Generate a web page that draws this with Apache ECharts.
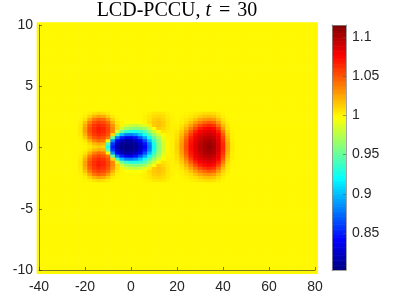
<!DOCTYPE html>
<html><head><meta charset="utf-8">
<script src="https://cdn.jsdelivr.net/npm/echarts@6/dist/echarts.min.js"></script>
<style>html,body{margin:0;padding:0;background:#fff}#c{width:393px;height:300px}</style>
</head><body><div id="c"></div>
<script>
// ---- values ----
const xTicks = [-40, -20, 0, 20, 40, 60, 80];
const yTicks = [-10, -5, 0, 5, 10];
const cbTicks = [0.85, 0.9, 0.95, 1, 1.05, 1.1];
const cMin = 0.803, cMax = 1.115;
const baseLevel = 1.0;   // uniform field away from the structures
// columns (x) of the detailed block
const xCols = [-22,-20,-18,-16,-14,-12,-10,-8,-6,-4,-2,0,2,4,6,8,10,12,14,16,18,20,22,24,26,28,30,32,34,36,38,40,42,44];
// rows (y) of the detailed block, top to bottom
const yRows = [2.85,2.6,2.35,2.1,1.85,1.6,1.35,1.1,0.85,0.6,0.35,0.1,-0.15,-0.4,-0.65,-0.9,-1.15,-1.4,-1.65,-1.9,-2.15,-2.4,-2.65];
// rows named by their offset from y = 0.1 (the picture is mirror-symmetric about it)
const rowD275 = [1.000,1.001,1.003,1.007,1.010,1.008,1.004,1.001,1.000,1.000,1.000,1.000,1.000,1.000,1.001,1.003,1.005,1.006,1.005,1.002,1.001,1.000,1.000,1.001,1.002,1.004,1.006,1.008,1.009,1.008,1.004,1.001,1.000,1.000];
const rowD250 = [1.000,1.003,1.011,1.021,1.027,1.024,1.014,1.004,1.001,1.000,1.000,1.000,1.000,1.000,1.002,1.005,1.009,1.010,1.008,1.004,1.001,1.000,1.001,1.002,1.005,1.008,1.013,1.017,1.018,1.016,1.009,1.003,1.000,1.000];
const rowD225 = [1.001,1.008,1.024,1.040,1.046,1.043,1.030,1.012,1.002,1.000,1.000,1.000,1.000,1.000,1.002,1.006,1.012,1.014,1.011,1.005,1.002,1.000,1.002,1.005,1.009,1.017,1.025,1.030,1.032,1.029,1.018,1.007,1.001,1.000];
const rowD200 = [1.003,1.016,1.038,1.052,1.057,1.054,1.044,1.022,1.005,1.001,0.998,0.997,0.997,0.998,1.001,1.008,1.014,1.017,1.013,1.006,1.002,1.001,1.003,1.008,1.017,1.028,1.038,1.045,1.049,1.045,1.030,1.012,1.003,1.000];
const rowD175 = [1.004,1.023,1.047,1.059,1.064,1.061,1.052,1.031,1.008,1.001,0.986,0.981,0.979,0.982,0.989,1.002,1.014,1.017,1.013,1.006,1.002,1.002,1.006,1.014,1.027,1.041,1.053,1.061,1.065,1.060,1.043,1.020,1.005,1.000];
const rowD150 = [1.005,1.027,1.051,1.062,1.069,1.065,1.055,1.035,1.010,0.981,0.969,0.962,0.960,0.962,0.969,0.981,0.998,1.014,1.010,1.005,1.003,1.003,1.009,1.022,1.038,1.054,1.067,1.074,1.077,1.073,1.057,1.029,1.007,1.001];
const rowD125 = [1.005,1.027,1.051,1.062,1.068,1.065,1.055,1.035,0.987,0.955,0.937,0.928,0.928,0.933,0.945,0.964,0.983,0.999,1.007,1.004,1.002,1.005,1.014,1.030,1.049,1.066,1.077,1.082,1.085,1.082,1.068,1.039,1.011,1.001];
const rowD100 = [1.004,1.022,1.046,1.058,1.063,1.060,1.051,1.010,0.941,0.900,0.883,0.880,0.887,0.904,0.927,0.946,0.966,0.985,0.999,1.002,1.003,1.007,1.018,1.037,1.058,1.074,1.084,1.089,1.092,1.088,1.076,1.048,1.015,1.002];
const rowD075 = [1.002,1.014,1.036,1.050,1.055,1.052,1.040,0.952,0.880,0.851,0.837,0.836,0.847,0.867,0.893,0.925,0.950,0.973,0.993,1.001,1.002,1.008,1.023,1.044,1.066,1.080,1.089,1.095,1.097,1.094,1.081,1.055,1.019,1.003];
const rowD050 = [1.001,1.006,1.021,1.036,1.043,1.039,1.000,0.887,0.840,0.821,0.813,0.814,0.822,0.837,0.865,0.901,0.936,0.965,0.987,1.000,1.003,1.010,1.027,1.049,1.070,1.083,1.093,1.099,1.103,1.098,1.085,1.060,1.022,1.003];
const rowD025 = [1.000,1.002,1.009,1.019,1.024,1.021,0.945,0.859,0.823,0.811,0.808,0.809,0.811,0.826,0.848,0.882,0.927,0.962,0.985,1.000,1.003,1.011,1.029,1.052,1.073,1.086,1.095,1.102,1.106,1.101,1.087,1.064,1.025,1.004];
const rowD000 = [1.000,1.001,1.004,1.010,1.014,1.011,0.926,0.848,0.816,0.808,0.805,0.806,0.809,0.821,0.842,0.877,0.924,0.961,0.984,1.000,1.003,1.012,1.030,1.053,1.074,1.086,1.096,1.103,1.108,1.103,1.088,1.065,1.025,1.004];

const fieldRows = [rowD275,rowD250,rowD225,rowD200,rowD175,rowD150,rowD125,rowD100,rowD075,rowD050,rowD025,
                   rowD000,
                   rowD025,rowD050,rowD075,rowD100,rowD125,rowD150,rowD175,rowD200,rowD225,rowD250,rowD275];
const jetColors = ['#000080','#0000ff','#0080ff','#00ffff','#80ff80','#ffff00','#ff8000','#ff0000','#800000'];

// ---- cell table over the whole domain ----
const cellW = 2, cellH = 0.25, rowOrigin = 0.1;
const cells = [];
for (let k = -41; k <= 40; k++) {
  const yc = rowOrigin + k * cellH;
  const r = yRows.findIndex(v => Math.abs(v - yc) < 1e-6);
  for (let i = 0; i <= 60; i++) {
    const xc = -40 + i * cellW;
    const c = xCols.indexOf(xc);
    const v = (r >= 0 && c >= 0) ? fieldRows[r][c] : baseLevel;
    cells.push([xc, yc, v]);
  }
}
// colour bar slices
const nSlices = 150;
const cbData = [];
for (let k = 0; k < nSlices; k++) {
  const lo = cMin + (cMax - cMin) * k / nSlices;
  const hi = cMin + (cMax - cMin) * (k + 1) / nSlices;
  cbData.push([0, lo, (lo + hi) / 2, hi]);
}

const axisColor = '#262626';
const labelFont = { fontSize: 14, color: '#262626', fontFamily: 'Liberation Sans, Arial, sans-serif' };
const serif = 'Liberation Serif, DejaVu Serif, serif';

const chart = echarts.init(document.getElementById('c'));
chart.setOption({
  animation: false,
  grid: [
    { left: 39, top: 25, width: 276, height: 245 },
    { left: 332, top: 25, width: 14, height: 245 }
  ],
  xAxis: [
    { gridIndex: 0, type: 'value', min: -40, max: 80, interval: 20, z: 10,
      axisLine: { show: true, onZero: false, lineStyle: { color: axisColor, width: 0.6 } },
      axisTick: { show: true, inside: true, length: 3, lineStyle: { color: axisColor, width: 0.6 } },
      axisLabel: Object.assign({ margin: 10 }, labelFont),
      splitLine: { show: false } },
    { gridIndex: 1, type: 'value', min: 0, max: 1, position: 'bottom', z: 10,
      axisLine: { show: true, onZero: false, lineStyle: { color: '#8a8a8a', width: 0.8 } },
      axisTick: { show: false }, axisLabel: { show: false }, splitLine: { show: false } },
    { gridIndex: 1, type: 'value', min: 0, max: 1, position: 'top', z: 10,
      axisLine: { show: true, onZero: false, lineStyle: { color: '#8a8a8a', width: 0.8 } },
      axisTick: { show: false }, axisLabel: { show: false }, splitLine: { show: false } }
  ],
  yAxis: [
    { gridIndex: 0, type: 'value', min: -10, max: 10, interval: 5, z: 10,
      axisLine: { show: true, onZero: false, lineStyle: { color: axisColor, width: 0.6 } },
      axisTick: { show: true, inside: true, length: 3, lineStyle: { color: axisColor, width: 0.6 } },
      axisLabel: Object.assign({ margin: 6 }, labelFont),
      splitLine: { show: false } },
    { gridIndex: 1, type: 'value', min: cMin, max: cMax, position: 'right', z: 10,
      axisLine: { show: true, onZero: false, lineStyle: { color: '#8a8a8a', width: 0.8 } },
      axisTick: { show: true, inside: true, length: 3, customValues: cbTicks, lineStyle: { color: '#555', width: 0.6 } },
      axisLabel: Object.assign({ margin: 6, customValues: cbTicks, formatter: v => String(+v.toFixed(2)) }, labelFont),
      splitLine: { show: false } },
    { gridIndex: 1, type: 'value', min: cMin, max: cMax, position: 'left', z: 10,
      axisLine: { show: true, onZero: false, lineStyle: { color: '#8a8a8a', width: 0.8 } },
      axisTick: { show: false }, axisLabel: { show: false }, splitLine: { show: false } }
  ],
  visualMap: {
    type: 'continuous', show: false, min: cMin, max: cMax, dimension: 2,
    seriesIndex: [0, 1], inRange: { color: jetColors }
  },
  series: [
    { type: 'custom', xAxisIndex: 0, yAxisIndex: 0, clip: true, data: cells,
      encode: { x: 0, y: 1 },
      renderItem: function (params, api) {
        const x = api.value(0), y = api.value(1);
        const p0 = api.coord([x - cellW / 2, y + cellH / 2]);
        const p1 = api.coord([x + cellW / 2, y - cellH / 2]);
        return { type: 'rect',
          shape: { x: p0[0], y: p0[1], width: p1[0] - p0[0] + 0.6, height: p1[1] - p0[1] + 0.6 },
          style: { fill: api.visual('color') } };
      } },
    { type: 'custom', xAxisIndex: 1, yAxisIndex: 1, clip: true, data: cbData,
      encode: { x: 0, y: [1, 3] },
      renderItem: function (params, api) {
        const p0 = api.coord([0, api.value(3)]);
        const p1 = api.coord([1, api.value(1)]);
        return { type: 'rect',
          shape: { x: p0[0], y: p0[1], width: p1[0] - p0[0], height: p1[1] - p0[1] + 0.6 },
          style: { fill: api.visual('color') } };
      } }
  ],
  graphic: [{
    type: 'text', x: 177, y: 1,
    style: {
      text: '{n|LCD-PCCU, }{i|t}{e|=}{n|30}',
      align: 'center', verticalAlign: 'top',
      rich: {
        n: { fontSize: 20, fontFamily: serif, fill: '#000' },
        i: { fontSize: 20, fontFamily: serif, fontStyle: 'italic', fill: '#000' },
        e: { fontSize: 20, fontFamily: serif, fill: '#000', padding: [0, 7, 0, 8] }
      }
    }
  }]
});
</script>
</body></html>
